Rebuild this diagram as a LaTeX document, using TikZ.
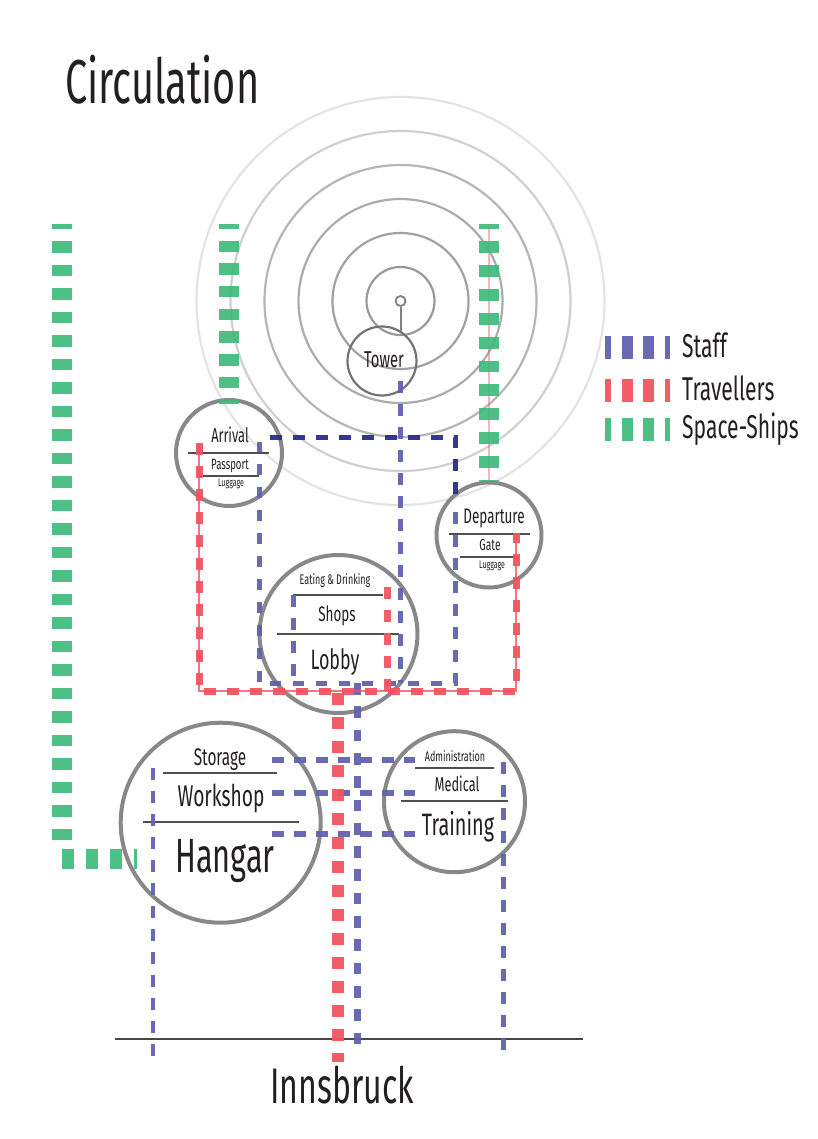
\documentclass[tikz,border=0pt]{standalone}
\usepackage{fontspec}
\setmainfont{Fira Sans}[FakeStretch=0.64]
\usepackage{tikz}
\definecolor{staffblue}{RGB}{98,98,176}
\definecolor{staffnavy}{RGB}{42,45,138}
\definecolor{travred}{RGB}{242,84,96}
\definecolor{shipgreen}{RGB}{60,185,120}
\definecolor{roomgray}{RGB}{136,136,136}
\definecolor{sepgray}{RGB}{78,78,78}
\definecolor{ink}{RGB}{35,31,32}
\newcommand{\txtsize}[1]{\fontsize{#1}{#1}\selectfont}

\begin{document}
\begin{tikzpicture}[
        x=1pt, y=-1pt,
        every node/.style={text=ink},
        room/.style={draw=roomgray, line width=4pt, circle, inner sep=0pt},
        ring/.style={line width=2.2pt},
        sep/.style={draw=sepgray, line width=2.2pt},
        staff/.style={draw=staffblue, line width=5pt, dash pattern=on 11.5pt off 11.5pt, draw opacity=0.95},
        trav/.style={draw=travred, line width=7pt, dash pattern=on 12pt off 11pt, draw opacity=0.95},
        travthin/.style={draw=travred, line width=1.4pt, draw opacity=0.8},
        ships/.style={draw=shipgreen, line width=20pt, dash pattern=on 11.7pt off 11.6pt, draw opacity=0.9},
        lbl/.style={anchor=base, inner sep=0pt}
    ]
        \useasboundingbox (0,0) rectangle (818,1139);

        \node[circle, draw=black!50, line width=1.8pt, minimum size=10pt, inner sep=0pt] (hub) at (400.5,301) {};
        \foreach \r/\g in {34/40,68/37,102/33,136/29,170/19,204/11}
            \draw[ring, draw=black!\g] (hub.center) circle[radius=\r pt];
        \node[circle, draw=black!55, line width=2.2pt, minimum size=69pt, inner sep=0pt] (tower) at (382,361) {};
        \coordinate (stemend) at (400.5,332);
        \draw[draw=black!50, line width=2pt] (hub.south) -- (stemend);

        \node[room, minimum size=106pt] (arrival) at (229,453) {};
        \node[room, minimum size=105pt] (departure) at (489,535) {};
        \node[room, minimum size=158pt] (lobby) at (338.5,634) {};
        \node[room, minimum size=200pt] (hangar) at (220.7,822.7) {};
        \node[room, minimum size=141pt] (training) at (454.5,801.7) {};

        \draw[sep] (188,452.7) -- (269,452.7);
        \draw[sep] (199,476) -- (259,476);
        \draw[sep] (449,534) -- (530,534);
        \draw[sep] (460,557) -- (519,557);
        \draw[sep] (293,595) -- (383,595);
        \draw[sep] (277,634) -- (399,634);
        \draw[sep] (163,773) -- (277,773);
        \draw[sep] (143,822) -- (299,822);
        \draw[sep] (415,767.7) -- (494,767.7);
        \draw[sep] (401,800.7) -- (508,800.7);

        \coordinate (cityw) at (115,1039);
        \coordinate (citye) at (583,1039);
        \draw[draw=black!72, line width=2.6pt] (cityw) -- (citye);

        \draw[staff, draw=staffnavy] (270,437) -- (455,437) -- (455,497);
        \draw[staff] (455,512) -- (455,683) -- (259,683) -- (259,442);
        \draw[staff] (400,381) -- (400,683);
        \draw[staff] (293,595) -- (293,683);
        \draw[staff, line width=7pt, dash pattern=on 11.7pt off 11.6pt] (357,683) -- (357,1052);
        \foreach \y in {760,793,834}
            \draw[staff, line width=6pt, dash pattern=on 12pt off 10pt] (272,\y) -- (415,\y);
        \draw[staff, line width=4.5pt] (153,768) -- (153,1065);
        \draw[staff] (503,762) -- (503,1058);

        \draw[travthin] (199,443) -- (199,691) -- (516,691) -- (516,533);
        \draw[trav] (199,443) -- (199,691) -- (516,691) -- (516,533);
        \draw[trav] (387,587) -- (387,691);
        \draw[trav, line width=12pt, dash pattern=on 12pt off 12pt] (338,693) -- (338,1062);

        \draw[ships, dash pattern=on 11.7pt off 11.8pt, dash phase=6.4pt] (62,224) -- (62,849);
        \draw[ships, dash pattern=on 11.7pt off 12.3pt] (62,859) -- (137,859);
        \draw[ships, dash pattern=on 11.4pt off 11.3pt, dash phase=6.1pt] (229,224) -- (229,404);
        \draw[travthin, draw opacity=0.45] (489,224) -- (departure.north);
        \draw[ships, dash pattern=on 11.8pt off 12pt, dash phase=6.3pt] (489,224) -- (departure.north);

        \draw[staff, line width=23pt, dash pattern=on 11pt off 10.6pt, dash phase=5pt] (605,347) -- (670,347);
        \draw[trav, line width=23pt, dash pattern=on 11pt off 10.6pt, dash phase=5pt] (605,390) -- (670,390);
        \draw[ships, line width=23pt, dash pattern=on 11pt off 10.6pt, dash phase=5pt] (605,429) -- (670,429);

        \node[lbl, anchor=base west, font=\txtsize{62}] (title) at (65,104) {Circulation};
        \node[lbl, font=\txtsize{23}] (towerlbl) at (384,367) {Tower};
        \node[lbl, font=\txtsize{20}] (arrivallbl) at (230,442) {Arrival};
        \node[lbl, font=\txtsize{15}] (passportlbl) at (230,469) {Passport};
        \node[lbl, font=\txtsize{11}] (arrluggagelbl) at (231,486) {Luggage};
        \node[lbl, font=\txtsize{21}] (departurelbl) at (494,523) {Departure};
        \node[lbl, font=\txtsize{16}] (gatelbl) at (490,550) {Gate};
        \node[lbl, font=\txtsize{11}] (depluggagelbl) at (492,568) {Luggage};
        \node[lbl, font=\txtsize{14}] (eatinglbl) at (335,584) {Eating \& Drinking};
        \node[lbl, font=\txtsize{21}] (shopslbl) at (337,621) {Shops};
        \node[lbl, font=\txtsize{28}] (lobbylbl) at (335,669) {Lobby};
        \node[lbl, font=\txtsize{24}] (storagelbl) at (220,765) {Storage};
        \node[lbl, font=\txtsize{30}] (workshoplbl) at (221,806) {Workshop};
        \node[lbl, font=\txtsize{48}] (hangarlbl) at (225,872) {Hangar};
        \node[lbl, font=\txtsize{14}] (adminlbl) at (455,761) {Administration};
        \node[lbl, font=\txtsize{20}] (medicallbl) at (457,791) {Medical};
        \node[lbl, font=\txtsize{31}] (traininglbl) at (458,835) {Training};
        \node[lbl, font=\txtsize{50}] (citylbl) at (342,1103) {Innsbruck};
        \node[lbl, anchor=base west, font=\txtsize{33}] (staffkey) at (682,357) {Staff};
        \node[lbl, anchor=base west, font=\txtsize{33}] (travkey) at (682,400) {Travellers};
        \node[lbl, anchor=base west, font=\txtsize{33}] (shipskey) at (682,438) {Space-Ships};
    \end{tikzpicture}
\end{document}
